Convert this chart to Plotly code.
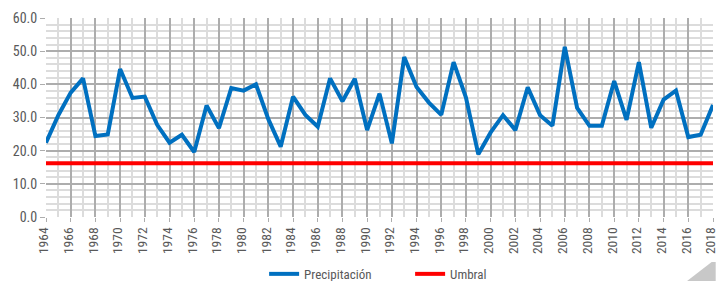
import plotly.graph_objects as go

years = list(range(1964, 2019))
precipitacion = [22.4, 30.7, 37.5, 41.8, 24.4, 24.9, 44.6, 35.9, 36.3, 27.8,
                 22.4, 24.8, 19.6, 33.6, 26.8, 38.9, 38.1, 40.0, 29.5, 21.2,
                 36.3, 30.8, 27.2, 41.8, 34.9, 41.7, 26.2, 37.2, 22.2, 48.2,
                 39.2, 34.5, 30.8, 46.7, 36.0, 18.9, 25.5, 30.7, 26.2, 39.1,
                 30.7, 27.5, 51.3, 32.9, 27.5, 27.5, 41.0, 29.3, 46.7, 26.9,
                 35.4, 38.1, 24.1, 24.8, 33.8]
umbral_valor = 16.2
umbral = [umbral_valor] * len(years)
tick_years = list(range(1964, 2019, 2))
y_ticks = [0, 10, 20, 30, 40, 50, 60]
y_tick_labels = [f"{v:.1f}" for v in y_ticks]

font_family = "Liberation Sans Narrow, Roboto Condensed, Arial Narrow, Roboto, sans-serif"

fig = go.Figure()
fig.add_trace(go.Scatter(x=years, y=precipitacion, mode="lines", name="Precipitación",
                         line=dict(color="#0070C0", width=4)))
fig.add_trace(go.Scatter(x=years, y=umbral, mode="lines", name="Umbral",
                         line=dict(color="#FF0000", width=4)))

fig.update_layout(
    width=716, height=281,
    margin=dict(l=46, r=3, t=18, b=64, autoexpand=False),
    paper_bgcolor="white", plot_bgcolor="white",
    font=dict(family=font_family, color="#595959", size=14),
    showlegend=True,
    legend=dict(orientation="h", x=0.327, xanchor="left", y=-0.286, yanchor="middle",
                font=dict(size=13, color="#595959"), entrywidth=101, entrywidthmode="pixels",
                tracegroupgap=0),
    xaxis=dict(range=[1964, 2018], tickmode="array", tickvals=tick_years,
               ticktext=[str(y) for y in tick_years], tickangle=-90,
               showgrid=True, gridcolor="#adadad", gridwidth=1.5,
               minor=dict(dtick=1, showgrid=True, gridcolor="#dcdcdc", gridwidth=1.5),
               zeroline=False, showline=False, ticks="outside", ticklen=4, tickcolor="#adadad",
               tickfont=dict(size=13.5), automargin=False, ticklabeloverflow="allow",
               ticklabelshift=-2),
    yaxis=dict(range=[0, 60], tickmode="array", tickvals=y_ticks, ticktext=y_tick_labels,
               showgrid=True, gridcolor="#adadad", gridwidth=1.5,
               minor=dict(dtick=2, showgrid=True, gridcolor="#dcdcdc", gridwidth=1.5),
               zeroline=False, showline=False, ticks="outside", ticklen=5, tickcolor="#adadad",
               tickfont=dict(size=14), automargin=False, ticklabeloverflow="allow"),
    shapes=[dict(type="path", xref="paper", yref="paper",
                 path="M 0.961 -0.322 L 0.998 -0.226 L 1.004 -0.226 L 1.004 -0.322 Z",
                 fillcolor="#c8c8c8", line=dict(width=0), layer="above")],
)

fig.write_html(
    "out.html",
    config={"displayModeBar": False},
    post_script="document.body.style.margin='0';document.body.style.overflow='hidden';",
)
